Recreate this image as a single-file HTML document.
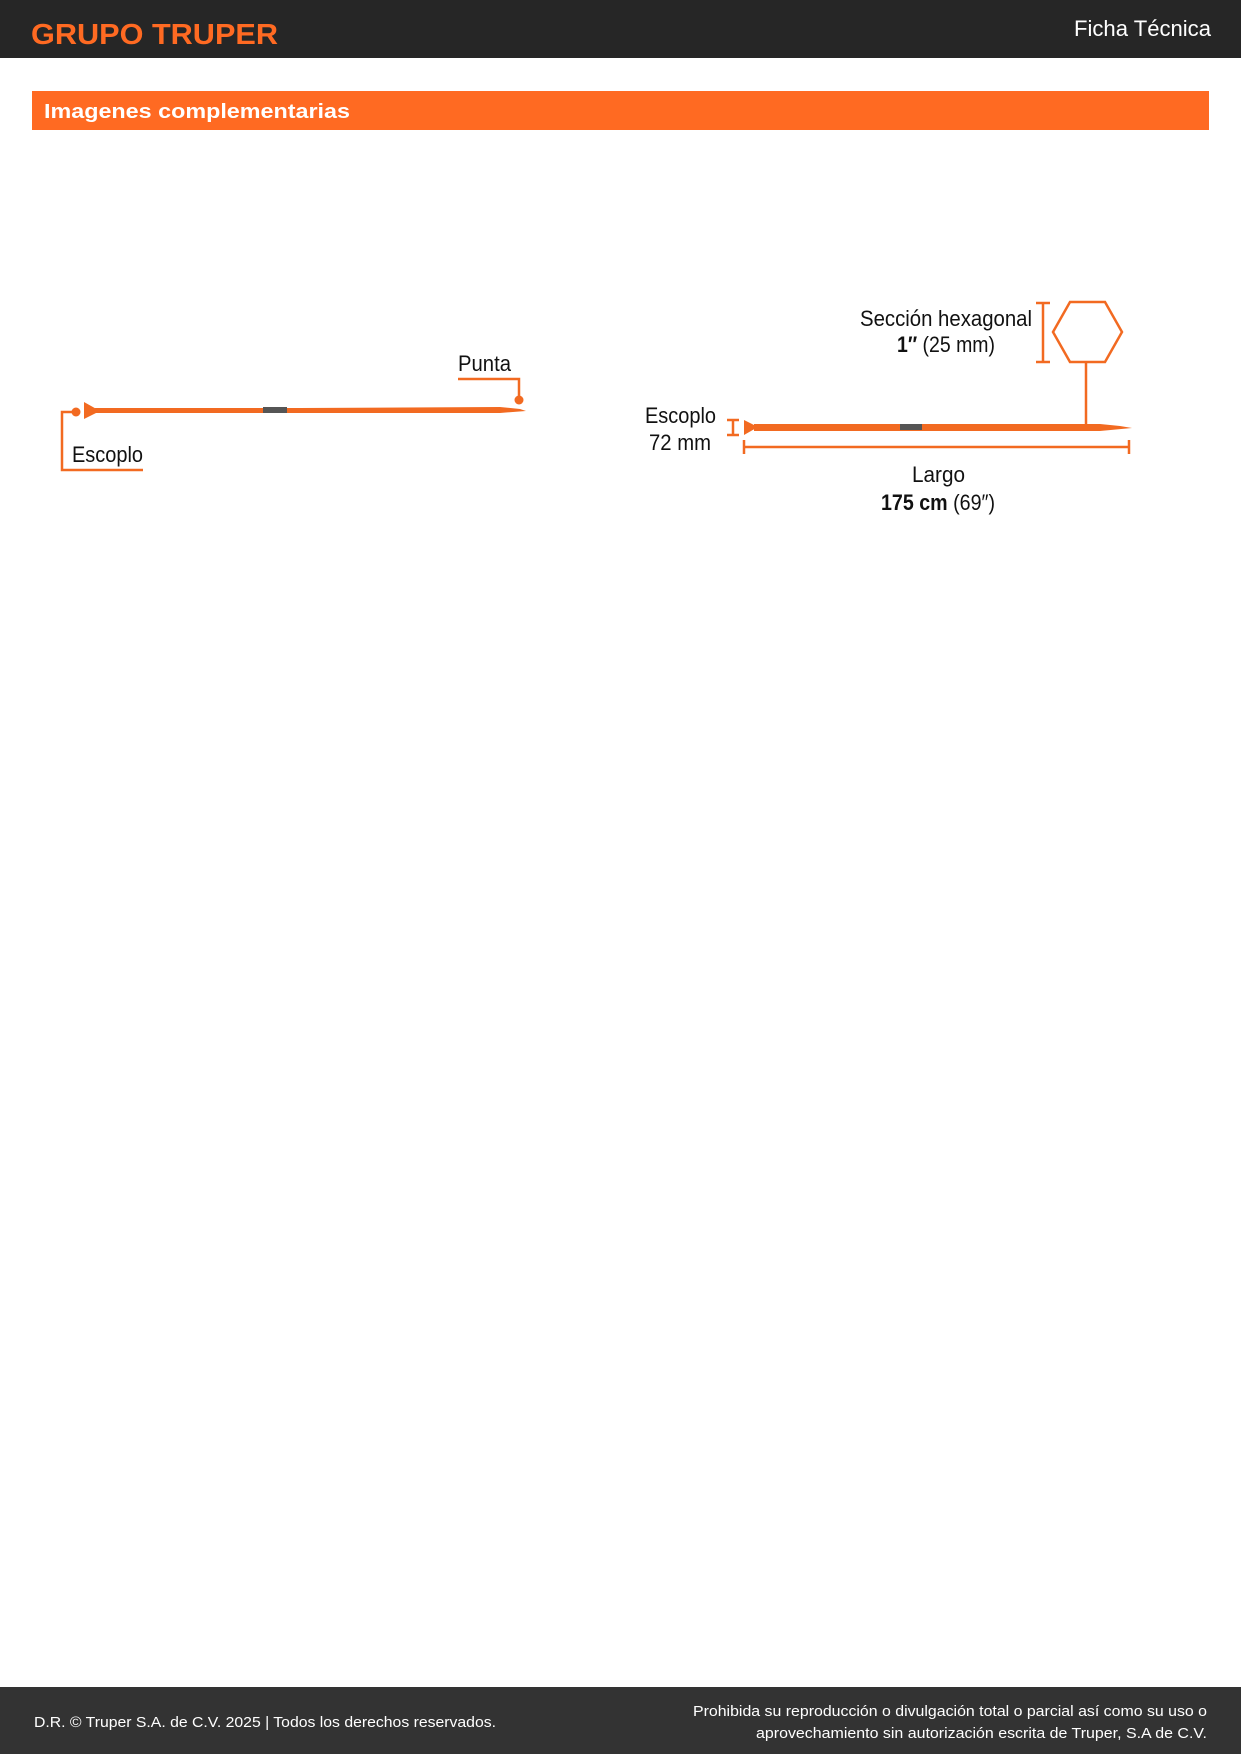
<!DOCTYPE html>
<html><head><meta charset="utf-8"><style>
html,body{margin:0;padding:0;background:#fff;}
body{width:1241px;height:1754px;overflow:hidden;}
svg{display:block;}
text{font-family:"Liberation Sans",sans-serif;}
</style></head><body>
<svg width="1241" height="1754" viewBox="0 0 1241 1754" xmlns="http://www.w3.org/2000/svg">
<rect x="0" y="0" width="1241" height="58" fill="#262626"/>
<text x="31" y="44" font-size="29" font-weight="bold" fill="#ff6a22" textLength="247" lengthAdjust="spacingAndGlyphs">GRUPO TRUPER</text>
<text x="1211" y="36" font-size="22" fill="#fff" text-anchor="end" textLength="137" lengthAdjust="spacingAndGlyphs">Ficha Técnica</text>

<rect x="32" y="91" width="1177" height="39" fill="#ff6a22"/>
<text x="44" y="118" font-size="20" font-weight="bold" fill="#fff" textLength="306" lengthAdjust="spacingAndGlyphs">Imagenes complementarias</text>

<!-- Left diagram -->
<g fill="#f26a21" stroke="none">
<polygon points="84,402 84,419 100,411"/>
<polygon points="95,408 300,408 500,407 520,409 526,411 500,413 300,413 95,413"/>
<rect x="263" y="407" width="24" height="6" fill="#555"/>
<circle cx="76" cy="412" r="4.5"/>
<circle cx="519" cy="400" r="4.5"/>
</g>
<g fill="none" stroke="#f26a21" stroke-width="2.5">
<polyline points="76,412 62,412 62,470 143,470"/>
<polyline points="458,379 519,379 519,400"/>
</g>
<g font-size="22" fill="#111">
<text x="72" y="462" textLength="71" lengthAdjust="spacingAndGlyphs">Escoplo</text>
<text x="458" y="371" textLength="53" lengthAdjust="spacingAndGlyphs">Punta</text>
</g>

<!-- Right diagram -->
<g fill="#f26a21">
<polygon points="744,420 744,435 758,427"/>
<polygon points="754,424 900,424 1100,424 1120,426 1132,428 1100,431 900,431 754,431"/>
<rect x="900" y="424" width="22" height="6" fill="#555"/>
</g>
<g fill="none" stroke="#f26a21" stroke-width="2.5">
<polygon points="1053,332 1070,302 1105,302 1122,332 1105,362 1070,362"/>
<line x1="1086" y1="362" x2="1086" y2="426"/>
<line x1="1043" y1="303" x2="1043" y2="362"/>
<line x1="1036" y1="303" x2="1050" y2="303"/>
<line x1="1036" y1="362" x2="1050" y2="362"/>
<line x1="733" y1="420" x2="733" y2="435"/>
<line x1="727" y1="420" x2="739" y2="420"/>
<line x1="727" y1="435" x2="739" y2="435"/>
<line x1="744" y1="447" x2="1129" y2="447"/>
<line x1="744" y1="440" x2="744" y2="454"/>
<line x1="1129" y1="440" x2="1129" y2="454"/>
</g>
<g font-size="22" fill="#111">
<text x="1032" y="326" text-anchor="end" textLength="172" lengthAdjust="spacingAndGlyphs">Sección hexagonal</text>
<text x="897" y="352" textLength="98" lengthAdjust="spacingAndGlyphs"><tspan font-weight="bold">1″</tspan> (25 mm)</text>
<text x="645" y="423" textLength="71" lengthAdjust="spacingAndGlyphs">Escoplo</text>
<text x="649" y="450" textLength="62" lengthAdjust="spacingAndGlyphs">72 mm</text>
<text x="912" y="482" textLength="53" lengthAdjust="spacingAndGlyphs">Largo</text>
<text x="881" y="510" textLength="114" lengthAdjust="spacingAndGlyphs"><tspan font-weight="bold">175 cm</tspan> (69″)</text>
</g>

<!-- Footer -->
<rect x="0" y="1687" width="1241" height="67" fill="#333"/>
<g font-size="15" fill="#fff">
<text x="34" y="1727" textLength="462" lengthAdjust="spacingAndGlyphs">D.R. © Truper S.A. de C.V. 2025 | Todos los derechos reservados.</text>
<text x="1207" y="1716" text-anchor="end" textLength="514" lengthAdjust="spacingAndGlyphs">Prohibida su reproducción o divulgación total o parcial así como su uso o</text>
<text x="1207" y="1738" text-anchor="end" textLength="451" lengthAdjust="spacingAndGlyphs">aprovechamiento sin autorización escrita de Truper, S.A de C.V.</text>
</g>
</svg>
</body></html>
